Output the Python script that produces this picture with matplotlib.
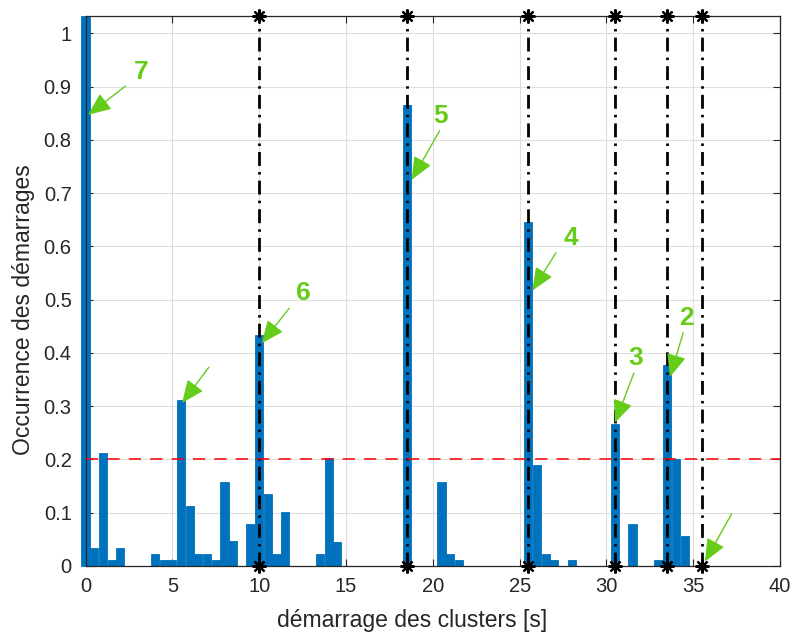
import numpy as np
import matplotlib
matplotlib.use('Agg')
import matplotlib.pyplot as plt

plt.rcParams['font.family'] = ['Liberation Sans', 'DejaVu Sans']

# start positions of the clusters [s] and occurrence
x_bar = [0, 0.5, 1.0, 1.5, 2.0,
         4.0, 4.5, 5.0, 5.5, 6.0, 6.5, 7.0, 7.5, 8.0, 8.5, 9.5,
         10.0, 10.5, 11.0, 11.5, 13.5, 14.0, 14.5,
         18.5, 20.5, 21.0, 21.5,
         25.5, 26.0, 26.5, 27.0, 28.0,
         30.5, 31.5, 33.0, 33.5, 34.0, 34.5]
y_bar = [1.033, 0.034, 0.212, 0.011, 0.034,
         0.023, 0.012, 0.012, 0.312, 0.112, 0.023, 0.023, 0.012, 0.157, 0.046, 0.078,
         0.434, 0.135, 0.023, 0.102, 0.023, 0.202, 0.045,
         0.866, 0.157, 0.023, 0.012,
         0.645, 0.19, 0.023, 0.012, 0.012,
         0.267, 0.078, 0.012, 0.378, 0.201, 0.057]

# detected cluster starts (vertical lines)
x_start = [10, 18.5, 25.5, 30.5, 33.5, 35.5]
seuil = 0.2

# arrows: tip, tail, label
arr_tip = [(0.15, 0.847), (18.78, 0.725), (25.73, 0.517), (10.14, 0.418),
           (5.56, 0.306), (30.49, 0.269), (33.66, 0.355), (35.67, 0.008)]
arr_tail = [(2.30, 0.901), (20.39, 0.817), (27.09, 0.588), (11.73, 0.484),
            (7.10, 0.373), (31.58, 0.362), (34.42, 0.438), (37.21, 0.098)]
arr_txt = ['7', '5', '4', '6', '', '3', '2', '']
arr_txt_pos = [(3.19, 0.928), (20.47, 0.845), (27.96, 0.615), (12.52, 0.513),
               None, (31.70, 0.391), (34.58, 0.466), None]

xticks = np.arange(0, 41, 5)
yticks = np.round(np.arange(0, 1.01, 0.1), 1)
ylabels = ['0', '0.1', '0.2', '0.3', '0.4', '0.5', '0.6', '0.7', '0.8', '0.9', '1']

ymax = 1.033
blue = '#0072BD'
green = '#66CC1A'
grey = '#262626'

fig = plt.figure(figsize=(7.92, 6.33), dpi=100)
ax = fig.add_axes([0.108, 0.106, 0.877, 0.869])

bars = ax.bar(x_bar, y_bar, width=0.47, color=blue, edgecolor=blue, linewidth=0.6, zorder=2)
for b in bars:
    b.set_clip_on(False)

for xs in x_start:
    ax.plot([xs, xs], [0, ymax], color='k', linestyle='-.', lw=2,
            dashes=(5, 2.2, 0.9, 2.2), zorder=3)
    ax.plot([xs, xs], [0, ymax], linestyle='none', marker=(8, 2, 0), ms=10,
            mec='k', mew=1.6, clip_on=False, zorder=5)

ax.axhline(seuil, color='r', linestyle='--', lw=1.1, dashes=(8, 6), zorder=4)

for tip, tail, t, tp in zip(arr_tip, arr_tail, arr_txt, arr_txt_pos):
    ax.annotate('', xy=tip, xytext=tail,
                arrowprops=dict(arrowstyle='-|>,head_length=1.4,head_width=0.6',
                                color=green, lw=1.0, shrinkA=0, shrinkB=0),
                zorder=6)
    if t:
        ax.text(tp[0], tp[1], t, color=green, fontsize=19, fontweight='bold',
                ha='center', va='center', zorder=6)

ax.set_xlim(0, 40)
ax.set_ylim(0, ymax)
ax.set_xticks(xticks)
ax.set_yticks(yticks)
ax.set_yticklabels(ylabels)
ax.grid(True, color='#dedede', lw=0.8, zorder=0)
ax.set_axisbelow(True)
ax.tick_params(direction='in', top=True, right=True, length=5, labelsize=14.5,
               colors=grey, labelcolor=grey)
ax.tick_params(axis='y', pad=10)
ax.tick_params(axis='x', pad=8)
for s in ax.spines.values():
    s.set_color(grey)
    s.set_linewidth(0.9)

ax.set_xlabel('démarrage des clusters [s]', fontsize=16.5, color=grey, labelpad=9)
ax.set_ylabel('Occurrence des démarrages', fontsize=16.5, color=grey, labelpad=6)
ax.xaxis.label.set_x(0.47)
ax.yaxis.label.set_y(0.465)

plt.savefig('out.png', dpi=100)
